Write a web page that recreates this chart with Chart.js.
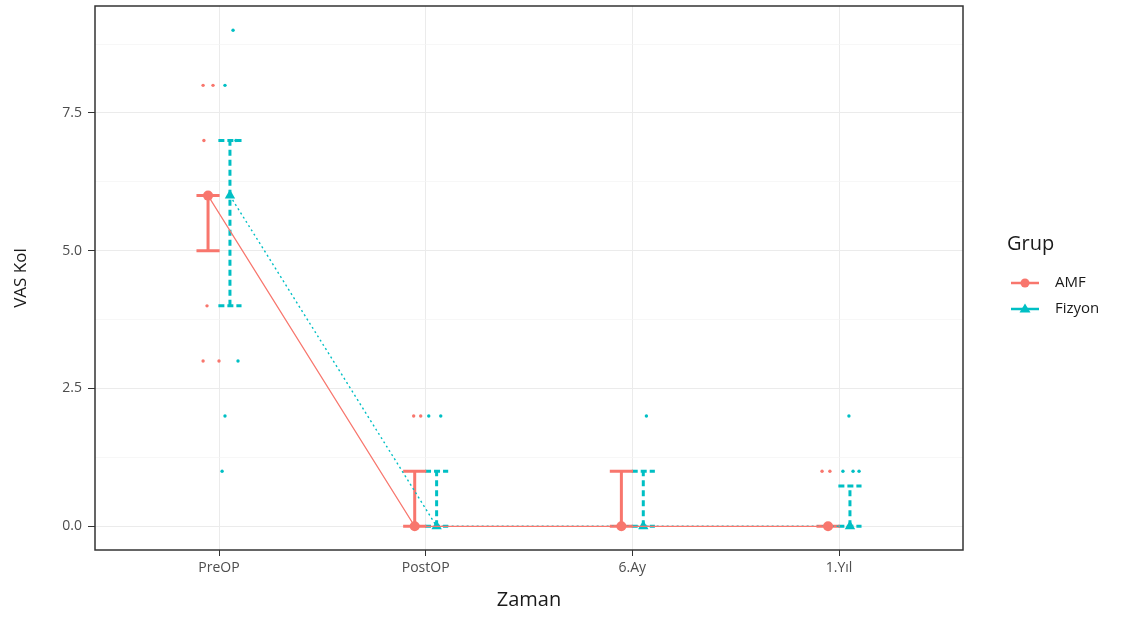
<!DOCTYPE html>
<html>
<head>
<meta charset="utf-8">
<script src="https://cdn.jsdelivr.net/npm/chart.js@4.4.0/dist/chart.umd.min.js"></script>
<style>
  html, body { margin: 0; padding: 0; background: #fff; }
  #wrap { width: 1145px; height: 619px; }
</style>
</head>
<body>
<div id="wrap"><canvas id="chart" width="1145" height="619"></canvas></div>
<script>
const categories = ['PreOP', 'PostOP', '6.Ay', '1.Yıl'];
const groups = ['AMF', 'Fizyon'];

// centre point and error bar ends per time point
const amfMean = [6, 0, 0, 0];
const fizMean = [6, 0, 0, 0];
const amfLow  = [5, 0, 0, 0];
const amfHigh = [6, 1, 1, 0];
const fizLow  = [4, 0, 0, 0];
const fizHigh = [7, 1, 1, 0.73];

// raw observations (category index, jitter offset, value)
const amfRawCat = [0, 0, 0, 0, 0, 0, 1, 1, 3, 3];
const amfRawJit = [-0.077, -0.029, -0.073, -0.058, -0.077, 0.0, -0.058, -0.024, -0.082, -0.044];
const amfRawVal = [8, 8, 7, 4, 3, 3, 2, 2, 1, 1];
const fizRawCat = [0, 0, 0, 0, 0, 0, 1, 1, 2, 3, 3, 3, 3];
const fizRawJit = [0.068, 0.029, 0.082, 0.092, 0.029, 0.015, 0.015, 0.073, 0.068, 0.019, 0.068, 0.097, 0.048];
const fizRawVal = [9, 8, 7, 3, 2, 1, 2, 2, 2, 1, 1, 1, 2];

const yMajor = [0, 2.5, 5, 7.5];
const yMinor = [1.25, 3.75, 6.25, 8.75];

const AMF_COLOR = '#F8766D';
const FIZ_COLOR = '#00BFC4';
const DODGE = 0.053;
const CAP = 0.056;
const FONT = '"Open Sans", "DejaVu Sans", sans-serif';

function meanPts(vals, off) {
  return vals.map((v, i) => ({ x: i + off, y: v }));
}
function barPts(lo, hi, off) {
  const pts = [];
  lo.forEach((l, i) => pts.push({ x: i + off, y: l }, { x: i + off, y: hi[i] }, { x: i + off, y: null }));
  return pts;
}
function capPts(lo, hi, off) {
  const pts = [];
  lo.forEach((l, i) => {
    [l, hi[i]].forEach(v => pts.push({ x: i + off - CAP, y: v }, { x: i + off + CAP, y: v }, { x: i + off, y: null }));
  });
  return pts;
}
function rawPts(cat, jit, val) {
  return val.map((v, k) => ({ x: cat[k] + jit[k], y: v }));
}

const lineBase = { type: 'line', fill: false, spanGaps: false, pointRadius: 0, tension: 0 };

// panel frame + ggplot-like legend
const framePlugin = {
  id: 'frame',
  afterDraw(chart) {
    const { ctx, chartArea: a } = chart;
    ctx.save();
    ctx.strokeStyle = '#333333';
    ctx.lineWidth = 1.5;
    ctx.strokeRect(a.left, a.top, a.right - a.left, a.bottom - a.top);

    ctx.fillStyle = '#1a1a1a';
    ctx.textBaseline = 'middle';
    ctx.textAlign = 'left';
    ctx.font = '20px ' + FONT;
    ctx.fillText('Grup', 1007, 244);

    const rows = [
      { label: groups[0], color: AMF_COLOR, y: 283, shape: 'circle' },
      { label: groups[1], color: FIZ_COLOR, y: 309, shape: 'triangle' }
    ];
    ctx.font = '15px ' + FONT;
    rows.forEach(r => {
      ctx.strokeStyle = r.color;
      ctx.fillStyle = r.color;
      ctx.lineWidth = 2.5;
      ctx.beginPath();
      ctx.moveTo(1011, r.y);
      ctx.lineTo(1039, r.y);
      ctx.stroke();
      ctx.beginPath();
      if (r.shape === 'circle') {
        ctx.arc(1025, r.y, 4.5, 0, Math.PI * 2);
      } else {
        ctx.moveTo(1025, r.y - 5.5);
        ctx.lineTo(1030.5, r.y + 3.5);
        ctx.lineTo(1019.5, r.y + 3.5);
        ctx.closePath();
      }
      ctx.fill();
      ctx.fillStyle = '#1a1a1a';
      ctx.fillText(r.label, 1055, r.y);
    });
    ctx.restore();
  }
};

new Chart(document.getElementById('chart'), {
  type: 'line',
  data: {
    datasets: [
      { ...lineBase, label: 'AMF', data: meanPts(amfMean, -DODGE), borderColor: AMF_COLOR, borderWidth: 1.2,
        pointRadius: 5, pointStyle: 'circle', pointBackgroundColor: AMF_COLOR, pointBorderWidth: 0 },
      { ...lineBase, label: 'Fizyon', data: meanPts(fizMean, DODGE), borderColor: FIZ_COLOR, borderWidth: 1.4,
        borderDash: [2, 3], pointRadius: 6, pointStyle: 'triangle', pointBackgroundColor: FIZ_COLOR, pointBorderWidth: 0 },
      { ...lineBase, data: barPts(amfLow, amfHigh, -DODGE), borderColor: AMF_COLOR, borderWidth: 3 },
      { ...lineBase, data: capPts(amfLow, amfHigh, -DODGE), borderColor: AMF_COLOR, borderWidth: 3 },
      { ...lineBase, data: barPts(fizLow, fizHigh, DODGE), borderColor: FIZ_COLOR, borderWidth: 3, borderDash: [6, 4] },
      { ...lineBase, data: capPts(fizLow, fizHigh, DODGE), borderColor: FIZ_COLOR, borderWidth: 3, borderDash: [6, 3] },
      { ...lineBase, showLine: false, data: rawPts(amfRawCat, amfRawJit, amfRawVal), pointRadius: 1.7,
        pointBackgroundColor: AMF_COLOR, pointBorderWidth: 0 },
      { ...lineBase, showLine: false, data: rawPts(fizRawCat, fizRawJit, fizRawVal), pointRadius: 1.7,
        pointBackgroundColor: FIZ_COLOR, pointBorderWidth: 0 }
    ]
  },
  options: {
    responsive: false,
    animation: false,
    devicePixelRatio: 1,
    events: [],
    layout: { padding: { left: 0, top: 6, right: 182, bottom: 0 } },
    plugins: { legend: { display: false }, tooltip: { enabled: false } },
    scales: {
      x: {
        type: 'linear',
        min: -0.6,
        max: 3.6,
        afterBuildTicks: axis => { axis.ticks = categories.map((c, i) => ({ value: i })); },
        afterFit: s => { s.height = 69; s.paddingLeft = 0; s.paddingRight = 0; },
        ticks: {
          callback: v => categories[v],
          color: '#4d4d4d',
          font: { family: FONT, size: 14 },
          padding: 4,
          maxRotation: 0
        },
        grid: { color: '#ebebeb', lineWidth: 1, tickColor: '#333333', tickLength: 6 },
        border: { display: false },
        title: { display: true, text: 'Zaman', color: '#1a1a1a', font: { family: FONT, size: 20 }, padding: { top: 0, bottom: 7 } }
      },
      y: {
        type: 'linear',
        min: -0.43,
        max: 9.44,
        afterBuildTicks: axis => {
          axis.ticks = [...yMajor, ...yMinor].sort((a, b) => a - b).map(v => ({ value: v }));
        },
        afterFit: s => { s.width = 95; s.paddingTop = 0; s.paddingBottom = 0; },
        ticks: {
          callback: v => yMajor.includes(v) ? v.toFixed(1) : '',
          color: '#4d4d4d',
          font: { family: FONT, size: 14 },
          padding: 6
        },
        grid: {
          color: c => yMinor.includes(c.tick.value) ? '#f3f3f3' : '#ebebeb',
          lineWidth: c => yMinor.includes(c.tick.value) ? 0.7 : 1,
          tickColor: c => yMinor.includes(c.tick.value) ? 'rgba(0,0,0,0)' : '#333333',
          tickLength: 7
        },
        border: { display: false },
        title: { display: true, text: 'VAS Kol', color: '#1a1a1a', font: { family: FONT, size: 17 }, padding: { top: 11, bottom: 0 } }
      }
    }
  },
  plugins: [framePlugin]
});
</script>
</body>
</html>
